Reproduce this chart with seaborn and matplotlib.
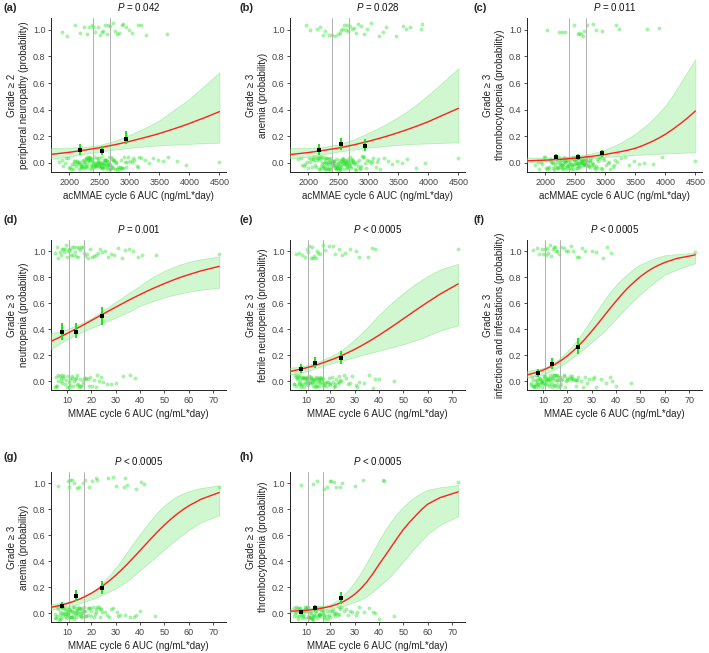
import numpy as np
import pandas as pd
import matplotlib
matplotlib.use("Agg")
import matplotlib.pyplot as plt
import seaborn as sns

sns.set_theme(style="ticks")
plt.rcParams["font.family"] = ["Liberation Sans", "DejaVu Sans"]
plt.rcParams["mathtext.fontset"] = "custom"
plt.rcParams["mathtext.it"] = "Liberation Sans:italic"
plt.rcParams["mathtext.rm"] = "Liberation Sans"

# ---------------- data ----------------
# exposure grids for model predictions
ac_grid = [1695, 2000, 2250, 2500, 2750, 3000, 3250, 3375, 3500, 3625, 3750, 3875, 4000, 4125,
           4250, 4375, 4500]
mm_grid = [3.5, 7, 10, 12.5, 15, 17.5, 20, 22.5, 25, 27.5, 30, 32.5, 35, 37.5, 40, 42.5, 45, 47.5,
           50, 52.5, 55, 57.5, 60, 65, 72.5]

# (a) peripheral neuropathy
a_mean = [0.064, 0.080, 0.096, 0.114, 0.136, 0.161, 0.190, 0.205, 0.221, 0.239, 0.257, 0.276,
          0.296, 0.318, 0.339, 0.362, 0.385]
a_upper = [0.112, 0.115, 0.120, 0.135, 0.165, 0.210, 0.260, 0.290, 0.320, 0.360, 0.400, 0.440,
           0.480, 0.530, 0.580, 0.630, 0.680]
a_lower = [0.032, 0.048, 0.068, 0.085, 0.100, 0.113, 0.123, 0.128, 0.132, 0.135, 0.138, 0.141,
           0.143, 0.146, 0.148, 0.150, 0.152]
# (b) anemia (acMMAE)
b_mean = [0.063, 0.078, 0.094, 0.112, 0.135, 0.162, 0.193, 0.210, 0.228, 0.247, 0.267, 0.288,
          0.310, 0.335, 0.360, 0.385, 0.410]
b_upper = [0.110, 0.113, 0.120, 0.140, 0.175, 0.225, 0.280, 0.312, 0.345, 0.382, 0.420, 0.465,
           0.510, 0.560, 0.610, 0.660, 0.710]
b_lower = [0.033, 0.047, 0.066, 0.085, 0.100, 0.115, 0.126, 0.131, 0.135, 0.139, 0.142, 0.145,
           0.147, 0.149, 0.151, 0.153, 0.155]
# (c) thrombocytopenia (acMMAE)
c_mean = [0.016, 0.021, 0.027, 0.036, 0.048, 0.064, 0.084, 0.096, 0.110, 0.131, 0.155, 0.183,
          0.215, 0.253, 0.295, 0.340, 0.390]
c_upper = [0.040, 0.040, 0.042, 0.050, 0.068, 0.100, 0.150, 0.183, 0.220, 0.263, 0.310, 0.367,
           0.430, 0.510, 0.600, 0.690, 0.780]
c_lower = [0.006, 0.010, 0.017, 0.025, 0.035, 0.045, 0.053, 0.057, 0.060, 0.063, 0.066, 0.069,
           0.071, 0.074, 0.076, 0.078, 0.080]
# (d) neutropenia
d_mean = [0.307, 0.338, 0.367, 0.391, 0.416, 0.441, 0.467, 0.493, 0.519, 0.545, 0.570, 0.595,
          0.620, 0.644, 0.667, 0.690, 0.712, 0.732, 0.752, 0.771, 0.789, 0.806, 0.821, 0.850, 0.885]
d_upper = [0.370, 0.385, 0.400, 0.420, 0.440, 0.460, 0.485, 0.515, 0.545, 0.578, 0.610, 0.643,
           0.675, 0.705, 0.735, 0.770, 0.800, 0.825, 0.850, 0.870, 0.890, 0.905, 0.920, 0.940, 0.960]
d_lower = [0.245, 0.290, 0.320, 0.345, 0.370, 0.390, 0.410, 0.430, 0.450, 0.470, 0.490, 0.510,
           0.530, 0.555, 0.580, 0.598, 0.615, 0.630, 0.645, 0.658, 0.670, 0.680, 0.690, 0.705, 0.720]
# (e) febrile neutropenia
e_mean = [0.075, 0.089, 0.102, 0.115, 0.129, 0.145, 0.162, 0.180, 0.200, 0.222, 0.245, 0.270,
          0.297, 0.325, 0.354, 0.385, 0.416, 0.448, 0.481, 0.513, 0.546, 0.578, 0.609, 0.670, 0.750]
e_upper = [0.105, 0.110, 0.120, 0.135, 0.150, 0.170, 0.190, 0.215, 0.245, 0.280, 0.320, 0.365,
           0.410, 0.460, 0.510, 0.555, 0.600, 0.640, 0.680, 0.715, 0.750, 0.780, 0.810, 0.860, 0.905]
e_lower = [0.050, 0.063, 0.075, 0.090, 0.105, 0.120, 0.135, 0.148, 0.160, 0.172, 0.185, 0.198,
           0.210, 0.222, 0.235, 0.248, 0.260, 0.272, 0.285, 0.300, 0.315, 0.332, 0.350, 0.390, 0.430]
# (f) infections and infestations
f_mean = [0.048, 0.066, 0.085, 0.106, 0.130, 0.160, 0.194, 0.234, 0.279, 0.329, 0.384, 0.441,
          0.500, 0.559, 0.616, 0.671, 0.721, 0.765, 0.806, 0.840, 0.870, 0.894, 0.915, 0.946, 0.973]
f_upper = [0.080, 0.090, 0.100, 0.120, 0.150, 0.185, 0.230, 0.280, 0.340, 0.410, 0.480, 0.550,
           0.620, 0.685, 0.740, 0.790, 0.830, 0.870, 0.900, 0.920, 0.940, 0.957, 0.970, 0.980, 0.990]
f_lower = [0.025, 0.040, 0.050, 0.070, 0.095, 0.120, 0.150, 0.185, 0.220, 0.260, 0.300, 0.340,
           0.380, 0.430, 0.480, 0.530, 0.580, 0.625, 0.670, 0.710, 0.750, 0.785, 0.820, 0.860, 0.910]
# (g) anemia (MMAE)
g_mean = [0.045, 0.059, 0.074, 0.089, 0.107, 0.129, 0.153, 0.182, 0.214, 0.251, 0.291, 0.335,
          0.382, 0.432, 0.482, 0.533, 0.584, 0.633, 0.679, 0.722, 0.761, 0.796, 0.827, 0.878, 0.930]
g_upper = [0.070, 0.078, 0.085, 0.097, 0.110, 0.133, 0.160, 0.197, 0.240, 0.292, 0.350, 0.413,
           0.480, 0.545, 0.610, 0.670, 0.730, 0.785, 0.830, 0.868, 0.900, 0.922, 0.940, 0.965, 0.985]
g_lower = [0.025, 0.036, 0.045, 0.060, 0.075, 0.090, 0.105, 0.125, 0.145, 0.167, 0.190, 0.218,
           0.250, 0.290, 0.330, 0.370, 0.410, 0.450, 0.490, 0.530, 0.570, 0.605, 0.640, 0.700, 0.755]
# (h) thrombocytopenia (MMAE)
h_mean = [0.015, 0.0185, 0.022, 0.027, 0.033, 0.042, 0.052, 0.067, 0.085, 0.112, 0.145, 0.188,
          0.240, 0.304, 0.375, 0.442, 0.510, 0.579, 0.645, 0.700, 0.750, 0.799, 0.840, 0.890, 0.935]
h_upper = [0.030, 0.032, 0.035, 0.040, 0.045, 0.055, 0.070, 0.095, 0.130, 0.180, 0.240, 0.310,
           0.390, 0.475, 0.560, 0.640, 0.710, 0.770, 0.820, 0.865, 0.900, 0.928, 0.950, 0.970, 0.988]
h_lower = [0.006, 0.008, 0.010, 0.015, 0.020, 0.027, 0.035, 0.044, 0.055, 0.069, 0.085, 0.105,
           0.130, 0.165, 0.205, 0.245, 0.290, 0.345, 0.400, 0.455, 0.510, 0.560, 0.610, 0.680, 0.748]

# observed proportions by exposure tertile (x, p, ci low, ci high)
ac_obs_x = [2180, 2540, 2940]
a_obs = [0.095, 0.090, 0.182]; a_obs_lo = [0.060, 0.060, 0.140]; a_obs_hi = [0.140, 0.125, 0.240]
b_obs = [0.100, 0.140, 0.130]; b_obs_lo = [0.060, 0.100, 0.090]; b_obs_hi = [0.140, 0.190, 0.180]
c_obs = [0.042, 0.042, 0.072]; c_obs_lo = [0.020, 0.020, 0.045]; c_obs_hi = [0.070, 0.065, 0.100]
mm_obs_x = [8.2, 13.6, 24.6]
d_obs = [0.380, 0.380, 0.500]; d_obs_lo = [0.320, 0.330, 0.430]; d_obs_hi = [0.450, 0.450, 0.570]
e_obs = [0.092, 0.142, 0.178]; e_obs_lo = [0.060, 0.100, 0.130]; e_obs_hi = [0.130, 0.190, 0.230]
f_obs = [0.060, 0.135, 0.265]; f_obs_lo = [0.035, 0.090, 0.210]; f_obs_hi = [0.090, 0.180, 0.330]
g_obs = [0.055, 0.132, 0.195]; g_obs_lo = [0.030, 0.090, 0.150]; g_obs_hi = [0.085, 0.180, 0.250]
h_obs = [0.010, 0.040, 0.115]; h_obs_lo = [0.000, 0.020, 0.070]; h_obs_hi = [0.022, 0.060, 0.165]

ac_tertile_cuts = [2390, 2680]
mm_tertile_cuts = [11.0, 17.0]

# individual patients: exposure of patients with / without event
ac_nonevent = [1830, 1870, 1900, 1930, 1950, 1980, 2000, 2010, 2030, 2050, 2060, 2080, 2100, 2110,
               2130, 2140, 2160, 2170, 2190, 2200, 2210, 2220, 2240, 2250, 2260, 2270, 2280, 2290,
               2300, 2310, 2320, 2330, 2340, 2350, 2360, 2370, 2380, 2390, 2400, 2410, 2420, 2430,
               2440, 2450, 2460, 2470, 2480, 2490, 2500, 2510, 2520, 2530, 2540, 2550, 2560, 2570,
               2580, 2590, 2600, 2610, 2620, 2630, 2640, 2650, 2660, 2670, 2680, 2690, 2700, 2710,
               2720, 2740, 2750, 2770, 2780, 2800, 2820, 2840, 2860, 2880, 2900, 2920, 2950, 2980,
               3010, 3040, 3080, 3120, 3160, 3200, 3260, 3320, 3400, 3480, 3560, 3650, 3800, 3950,
               4500, 2215, 2265, 2315, 2365, 2415, 2465, 2515, 2565, 2615, 2665, 2715, 2475, 2525,
               2575, 2625, 2345, 2295, 2245, 2195, 2155, 2755, 2805, 2855, 2075, 2125, 2435, 2485,
               2535, 2585, 2635, 2685, 2735, 2905, 2965, 3060, 3140, 2385, 2335, 2285]
a_event = [1880, 1960, 2100, 2180, 2250, 2290, 2330, 2370, 2400, 2430, 2470, 2510, 2540, 2560, 2600,
           2630, 2650, 2680, 2720, 2760, 2800, 2830, 2870, 2900, 2940, 3000, 3050, 3150, 3200, 3280, 3630]
b_event = [1960, 2020, 2140, 2200, 2240, 2280, 2340, 2400, 2450, 2490, 2520, 2550, 2570, 2590, 2620,
           2640, 2660, 2700, 2730, 2760, 2800, 2830, 2880, 2920, 2980, 3050, 3170, 3240, 3300, 3460,
           3580, 3620, 3700, 3870, 3900]
c_event = [2030, 2230, 2270, 2320, 2480, 2540, 2560, 2600, 2620, 2650, 2690, 2800, 2850, 2940, 3180,
           3230, 3690, 3900]

mm_nonevent = [5.0, 5.5, 6.0, 6.3, 6.7, 7.0, 7.3, 7.6, 8.0, 8.3, 8.6, 9.0, 9.2, 9.5, 9.8, 10.0, 10.3,
               10.6, 10.9, 11.2, 11.5, 11.8, 12.1, 12.4, 12.7, 13.0, 13.3, 13.6, 13.9, 14.2, 14.5,
               14.8, 15.1, 15.4, 15.7, 16.0, 16.4, 16.8, 17.2, 17.6, 18.0, 18.5, 19.0, 19.5, 20.0,
               20.6, 21.2, 21.8, 22.4, 23.0, 23.8, 24.6, 25.5, 26.5, 27.5, 29.0, 30.5, 32.0, 34.0,
               36.0, 37.5, 40.0, 46.0, 5.8, 6.5, 7.8, 8.8, 9.4, 10.5, 11.0, 12.0, 12.9, 13.8, 14.6,
               15.5, 16.2, 17.0, 18.8, 21.5, 23.5, 5.3, 7.1, 8.1, 9.7, 11.4, 12.6, 14.0, 15.9, 17.4,
               19.8, 22.0, 24.2, 28.0, 31.0, 38.5]
d_nonevent = [5.0, 5.5, 6.0, 6.5, 7.0, 7.5, 8.0, 8.5, 9.0, 9.5, 10.0, 10.5, 11.0, 11.5, 12.0, 12.5,
              13.0, 13.5, 14.0, 14.5, 15.0, 15.5, 16.0, 16.5, 17.0, 17.5, 18.0, 18.8, 19.5, 20.3,
              21.0, 22.0, 23.0, 24.0, 25.0, 26.5, 28.0, 30.0, 33.0, 36.0, 38.0, 6.2, 7.7, 9.2,
              10.8, 12.3, 13.8, 15.2, 16.8, 5.7, 8.2, 11.2, 14.3, 19.0, 22.5]
d_event = [5.2, 5.8, 6.4, 7.0, 7.5, 8.0, 8.5, 9.0, 9.4, 9.8, 10.2, 10.6, 11.0, 11.4, 11.8, 12.2, 12.6,
           13.0, 13.4, 13.8, 14.2, 14.6, 15.0, 15.5, 16.0, 16.5, 17.0, 17.6, 18.2, 18.8, 19.5, 20.2,
           21.0, 21.8, 22.6, 23.5, 24.5, 25.5, 27.0, 28.0, 29.5, 31.0, 32.5, 34.0, 35.5, 37.0, 39.0,
           41.0, 46.5, 72.5]
e_event = [6.0, 7.0, 8.5, 9.5, 10.5, 11.0, 11.5, 12.0, 12.5, 13.0, 13.5, 14.0, 14.5, 15.0, 16.0, 17.0,
           18.0, 19.5, 21.0, 22.0, 23.5, 25.0, 26.0, 28.0, 30.5, 32.0, 35.5, 37.0, 38.5, 72.5]
f_event = [6.0, 7.5, 8.5, 9.5, 10.0, 10.8, 11.3, 11.8, 12.3, 12.8, 13.5, 14.0, 14.5, 15.0, 15.5, 16.0,
           16.8, 17.5, 18.5, 19.5, 20.5, 21.5, 22.5, 24.0, 25.0, 26.0, 27.5, 30.0, 32.0, 34.5, 36.5,
           38.0, 72.5]
g_event = [6.5, 10.5, 11.0, 11.5, 12.0, 13.0, 14.0, 15.0, 16.5, 17.5, 19.0, 20.5, 22.0, 22.5, 27.0,
           29.0, 30.0, 33.5, 34.0, 34.5, 38.5, 40.5, 41.5, 72.5]
h_event = [8.0, 13.0, 14.5, 17.5, 18.5, 20.0, 20.5, 21.5, 22.5, 24.0, 25.0, 30.0, 33.5, 41.5, 42.0, 72.5]

p_labels = ["= 0.042", "= 0.028", "= 0.011", "= 0.001", "< 0.0005", "< 0.0005", "< 0.0005", "< 0.0005"]
y_labels = ["Grade \u2265 2\nperipheral neuropathy (probability)",
            "Grade \u2265 3\nanemia (probability)",
            "Grade \u2265 3\nthrombocytopenia (probability)",
            "Grade \u2265 3\nneutropenia (probability)",
            "Grade \u2265 3\nfebrile neutropenia (probability)",
            "Grade \u2265 3\ninfections and infestations (probability)",
            "Grade \u2265 3\nanemia (probability)",
            "Grade \u2265 3\nthrombocytopenia (probability)"]
panel_letters = ["(a)", "(b)", "(c)", "(d)", "(e)", "(f)", "(g)", "(h)"]
ac_xlabel = "acMMAE cycle 6 AUC (ng/mL*day)"
mm_xlabel = "MMAE cycle 6 AUC (ng/mL*day)"
ac_xticks = [2000, 2500, 3000, 3500, 4000, 4500]
mm_xticks = [10, 20, 30, 40, 50, 60, 70]
y_ticks = [0.0, 0.2, 0.4, 0.6, 0.8, 1.0]

# ---------------- figure ----------------
W, H = 709, 653
fig = plt.figure(figsize=(W / 100, H / 100), dpi=100)
fig.patch.set_facecolor("white")

col_left = [51, 290, 527]
col_w = 175
rows = [(18, 172), (240, 390), (472, 622)]


def make_ax(col, row):
    top, bot = rows[row]
    return fig.add_axes([col_left[col] / W, 1 - bot / H, col_w / W, (bot - top) / H])


np.random.seed(3)

panels = [
    ("ac", ac_nonevent, a_event, a_mean, a_upper, a_lower, a_obs, a_obs_lo, a_obs_hi),
    ("ac", ac_nonevent, b_event, b_mean, b_upper, b_lower, b_obs, b_obs_lo, b_obs_hi),
    ("ac", ac_nonevent, c_event, c_mean, c_upper, c_lower, c_obs, c_obs_lo, c_obs_hi),
    ("mm", d_nonevent, d_event, d_mean, d_upper, d_lower, d_obs, d_obs_lo, d_obs_hi),
    ("mm", mm_nonevent, e_event, e_mean, e_upper, e_lower, e_obs, e_obs_lo, e_obs_hi),
    ("mm", mm_nonevent, f_event, f_mean, f_upper, f_lower, f_obs, f_obs_lo, f_obs_hi),
    ("mm", mm_nonevent, g_event, g_mean, g_upper, g_lower, g_obs, g_obs_lo, g_obs_hi),
    ("mm", mm_nonevent, h_event, h_mean, h_upper, h_lower, h_obs, h_obs_lo, h_obs_hi),
]

for i, (kind, nonev, ev, mean, upper, lower, obs, obs_lo, obs_hi) in enumerate(panels):
    row, col = divmod(i, 3)
    ax = make_ax(col, row)
    if kind == "ac":
        grid, obs_x, cuts = ac_grid, ac_obs_x, ac_tertile_cuts
        xlim, xticks, xlabel = (1695, 4610), ac_xticks, ac_xlabel
    else:
        grid, obs_x, cuts = mm_grid, mm_obs_x, mm_tertile_cuts
        xlim, xticks, xlabel = (3.5, 75.3), mm_xticks, mm_xlabel

    pts = pd.DataFrame({"auc": list(nonev) + list(ev),
                        "event": [0] * len(nonev) + [1] * len(ev)})
    sns.stripplot(data=pts, x="auc", y="event", orient="h", native_scale=True,
                  jitter=0.05, color="#22e022", alpha=0.4, size=2.8, linewidth=0,
                  ax=ax, zorder=1)

    for c in cuts:
        ax.axvline(c, color="#b0b0b0", lw=0.7, zorder=2)

    ax.fill_between(grid, lower, upper, facecolor="#98ee98", alpha=0.45,
                    edgecolor="#66dd66", linewidth=0.5, zorder=3)
    sns.lineplot(x=grid, y=mean, color="#ff2020", lw=1.0, ax=ax, zorder=4)

    ax.vlines(obs_x, obs_lo, obs_hi, color="#22dd22", lw=1.4, zorder=5)
    sns.scatterplot(x=obs_x, y=obs, marker="s", color="black", s=11,
                    linewidth=0, ax=ax, zorder=6)

    ax.set_xlim(*xlim)
    ax.set_ylim(-0.068, 1.088)
    ax.set_xticks(xticks)
    ax.set_yticks(y_ticks)
    ax.set_yticklabels([f"{t:.1f}" for t in y_ticks])
    ax.set_xlabel(xlabel, fontsize=7, color="#222222", labelpad=3)
    ax.set_ylabel(y_labels[i], fontsize=7, color="#222222", labelpad=3, linespacing=1.25)
    ax.set_title(r"$\mathit{P}$ " + p_labels[i], fontsize=7, pad=5, color="#111111")
    ax.tick_params(axis="both", length=2.5, width=0.6, color="#333333",
                   labelsize=6.5, labelcolor="#444444", pad=1.5)
    for s in ["top", "right"]:
        ax.spines[s].set_visible(False)
    for s in ["left", "bottom"]:
        ax.spines[s].set_linewidth(0.7)
        ax.spines[s].set_color("#222222")
    ax.set_facecolor("white")

    label_y = {0: 8, 1: 220, 2: 457}[row]
    label_x = {0: 3, 1: 240, 2: 474}[col]
    fig.text(label_x / W, 1 - label_y / H, panel_letters[i], fontsize=8, fontweight="bold",
             va="center", ha="left")

fig.savefig("out.png", dpi=100, facecolor="white")
